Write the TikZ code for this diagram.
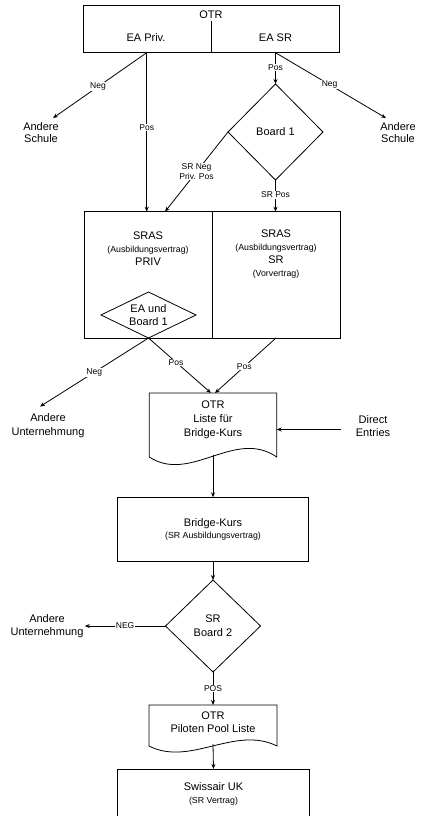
\documentclass[tikz,border=0pt]{standalone}
\usepackage{fontspec}
\setmainfont{Liberation Sans}
\usetikzlibrary{shapes.geometric,arrows.meta,calc}
\newcommand{\mainf}{\fontsize{11}{13}\selectfont}
\newcommand{\labf}{\fontsize{8.5}{10}\selectfont}
\newcommand{\parf}{\fontsize{8.8}{10}\selectfont}
\begin{document}
\begin{tikzpicture}[x=1pt,y=-1pt,line width=0.8pt,
  box/.style={draw,rectangle,inner sep=0pt,outer sep=0pt},
  dec/.style={draw,diamond,inner sep=0pt,outer sep=0pt,fill=white,align=center,font=\mainf},
  txt/.style={align=center,font=\mainf,inner sep=1pt},
  lab/.style={font=\labf,fill=white,inner sep=0.6pt,align=center},
  arr/.style={-{Stealth[length=5pt,width=4pt]}},
  docsh/.style={inner sep=0pt,outer sep=0pt}]
\clip (0,0) rectangle (421,816);
\fill[white] (0,0) rectangle (421,816);

% top box
\node[box,minimum width=256.5pt,minimum height=47.2pt] (otr) at (211.25,29.1) {};
\node[txt] (otrT) at (211,14.5) {OTR};
\node[txt] (eap) at (146,37.5) {EA Priv.};
\node[txt] (eas) at (275.5,37.5) {EA SR};
\coordinate (dv) at (211,21.5);
\draw (dv) -- (dv |- otr.south);
\coordinate (p1) at (146.7,52.7);
\coordinate (p2) at (275.5,52.7);

% Andere Schule
\node[txt,font=\fontsize{11}{12}\selectfont] (as1) at (41,132.5) {Andere\\Schule};
\node[txt,font=\fontsize{11}{12}\selectfont] (as2) at (398,132.5) {Andere\\Schule};

% Board 1
\node[dec,minimum width=95pt,minimum height=96pt] (b1) at (275.5,132) {Board 1};

% SRAS boxes
\node[box,minimum width=128pt,minimum height=126.3pt] (sl) at (148,274.85) {};
\node[box,minimum width=128pt,minimum height=126.3pt] (sr) at (276,274.85) {};
\node[txt] (slt) at (148,248.5) {SRAS\\{\parf (Ausbildungsvertrag)}\\PRIV};
\node[txt] (srt) at (276,254) {SRAS\\{\parf (Ausbildungsvertrag)}\\SR\\{\parf (Vorvertrag)}};
\node[dec,aspect=2,minimum width=95pt,minimum height=46pt,font=\fontsize{11}{12.5}\selectfont] (d2) at (148.5,315) {EA und\\Board 1};

% connectors top
\draw[arr] (p1) -- node[lab,pos=.52]{Neg} ([shift={(12,-3)}]as1.north);
\draw[arr] (p1) -- node[lab,pos=.47]{Pos} (p1 |- sl.north);
\draw[arr] (p2) -- node[lab,pos=.48]{Pos} (b1.north);
\draw[arr] (p2) -- node[lab,pos=.49]{Neg} ([shift={(-12,-3)}]as2.north);
\draw[arr] (b1.west) -- node[lab,pos=.5]{SR Neg\\Priv. Pos} ([xshift=17pt]sl.north);
\draw[arr] (b1.south) -- node[lab,pos=.47]{SR Pos} (b1.south |- sr.north);

% document 1
\node[docsh,minimum width=127.4pt,minimum height=64pt] (doc1) at (213,425) {};
\draw (doc1.south west) -- (doc1.north west) -- (doc1.north east) -- (doc1.south east)
  .. controls ($(doc1.south east)+(-41.7,-29)$) and ($(doc1.south west)+(41,27)$) .. (doc1.south west);
\node[txt,font=\fontsize{11}{13.8}\selectfont] (doc1t) at (213,420) {OTR\\Liste für\\Bridge-Kurs};

\node[txt,font=\fontsize{11}{13.8}\selectfont] (au1) at (48,426) {Andere\\Unternehmung};
\node[txt,font=\fontsize{11}{13.5}\selectfont] (de) at (373,426) {Direct\\Entries};
\coordinate (deL) at (341,429.5);

\draw[arr] (d2.south) -- node[lab,pos=.5]{Neg} ([shift={(-8,-6)}]au1.north);
\draw[arr] (d2.south) -- node[lab,pos=.44]{Pos} ([xshift=-2pt]doc1.north);
\draw[arr] (sr.south) -- node[lab,pos=.52]{Pos} ([xshift=2pt]doc1.north);
\draw[arr] (deL) -- (deL -| doc1.east);

% Bridge-Kurs
\node[box,minimum width=191.6pt,minimum height=64.4pt,align=center,font=\mainf] (bk) at (213,529.5) {Bridge-Kurs\\[-1pt]{\parf (SR Ausbildungsvertrag)}};
\draw[arr] ([yshift=2pt]doc1.south) -- (bk.north);

% Board 2
\node[dec,minimum width=95pt,minimum height=92pt,font=\fontsize{11}{14}\selectfont] (b2) at (213,626) {SR\\Board 2};
\draw[arr] (bk.south) -- (b2.north);
\node[txt,font=\fontsize{11}{13}\selectfont] (au2) at (47,626.5) {Andere\\Unternehmung};
\draw[arr] (b2.west) -- node[lab,pos=.5]{NEG} (b2.west -| au2.east);

% document 2
\node[docsh,minimum width=128pt,minimum height=41pt] (doc2) at (213,725.5) {};
\draw (doc2.south west) -- (doc2.north west) -- (doc2.north east) -- (doc2.south east)
  .. controls ($(doc2.south east)+(-42,-21)$) and ($(doc2.south west)+(41,21)$) .. (doc2.south west);
\node[txt] (doc2t) at (213,722.5) {OTR\\Piloten Pool Liste};
\draw[arr] (b2.south) -- node[lab,pos=.5]{POS} (doc2.north);

% Swissair UK
\node[box,minimum width=192pt,minimum height=72pt] (sw) at (213.5,805) {};
\node[txt] (swt) at (213.5,793.5) {Swissair UK\\{\parf (SR Vertrag)}};
\draw[arr] ([yshift=2pt]doc2.south) -- (sw.north);
\end{tikzpicture}
\end{document}
